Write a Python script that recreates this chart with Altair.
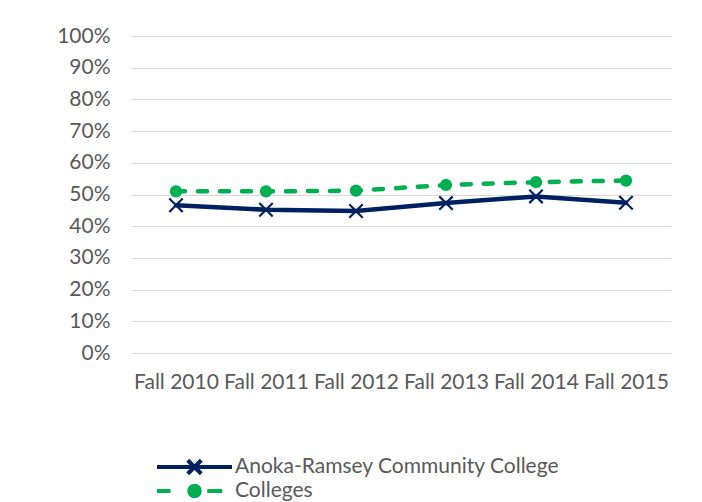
import altair as alt
import pandas as pd

terms = ["Fall 2010", "Fall 2011", "Fall 2012", "Fall 2013", "Fall 2014", "Fall 2015"]
anoka = [0.466, 0.452, 0.448, 0.473, 0.494, 0.474]
colleges = [0.510, 0.510, 0.512, 0.530, 0.539, 0.544]
series_names = ["Anoka-Ramsey Community College", "Colleges"]
colors = ["#002060", "#00b050"]
y_ticks = [0, 0.1, 0.2, 0.3, 0.4, 0.5, 0.6, 0.7, 0.8, 0.9, 1.0]

df = pd.DataFrame({
    "term": terms * 2,
    "value": anoka + colleges,
    "series": [series_names[0]] * len(terms) + [series_names[1]] * len(terms),
})

FONT = "Lato"
TXT = "#595959"

x_enc = alt.X("term:N", sort=terms, scale=alt.Scale(padding=0.5),
              axis=alt.Axis(title=None, labelAngle=0, ticks=False, domain=True,
                            domainColor="#d9d9d9", domainWidth=1, grid=False,
                            labelPadding=18, labelFont=FONT, labelFontSize=21,
                            labelColor=TXT, labelOverlap=False))
y_enc = alt.Y("value:Q", scale=alt.Scale(domain=[0, 1]),
              axis=alt.Axis(title=None, values=y_ticks, format=".0%", ticks=False,
                            domain=False, grid=True, gridColor="#d9d9d9", gridWidth=1,
                            labelPadding=21, labelFont=FONT, labelFontSize=21,
                            labelColor=TXT))

legend_shapes = [
    "M-1,0H1M-0.18,-0.18L0.18,0.18M-0.18,0.18L0.18,-0.18",
    "M-1,0H-0.64M0.34,0H0.74M-0.14,0A0.14,0.14 0 1,0 0.14,0A0.14,0.14 0 1,0 -0.14,0",
]

legend = alt.Legend(
    title=None, orient="none", legendX=24, legendY=420, direction="vertical",
    labelFont=FONT, labelFontSize=21, labelColor=TXT, labelLimit=0, symbolSize=5625,
    symbolStrokeWidth=4, clipHeight=22, rowPadding=2, labelOffset=1,
    symbolOpacity=1,
)

cscale = alt.Scale(domain=series_names, range=colors)

def sub(name):
    return alt.Chart(df).transform_filter(alt.datum.series == name)

line_a = sub(series_names[0]).mark_line(strokeWidth=4.5, strokeCap="round", color=colors[0]).encode(
    x=x_enc, y=y_enc)
line_c = sub(series_names[1]).mark_line(strokeWidth=4.5, strokeCap="round", color=colors[1],
                                        strokeDash=[9, 13]).encode(x=x_enc, y=y_enc)

x_points = sub(series_names[0]).mark_point(
    shape="M-1,-1L1,1M-1,1L1,-1", size=180, strokeWidth=2.2, filled=False,
    color=colors[0], opacity=1).encode(x=x_enc, y=y_enc)

c_points = sub(series_names[1]).mark_point(
    shape="circle", size=150, filled=True, color=colors[1], opacity=1).encode(x=x_enc, y=y_enc)

legend_layer = alt.Chart(df).mark_point(filled=True, size=0, opacity=1).encode(
    x=x_enc, y=y_enc,
    color=alt.Color("series:N", scale=cscale, legend=legend),
    stroke=alt.Stroke("series:N", scale=cscale, legend=legend),
    shape=alt.Shape("series:N", scale=alt.Scale(domain=series_names, range=legend_shapes), legend=legend),
)

chart = alt.layer(line_a, line_c, x_points, c_points, legend_layer).properties(
    width=540, height=317,
    padding={"left": 123, "top": 28, "right": 23, "bottom": 155},
    autosize=alt.AutoSizeParams(type="none"),
    background="white",
).configure_view(stroke=None)

chart.save("out.html", embed_options={"renderer": "svg", "actions": False})
